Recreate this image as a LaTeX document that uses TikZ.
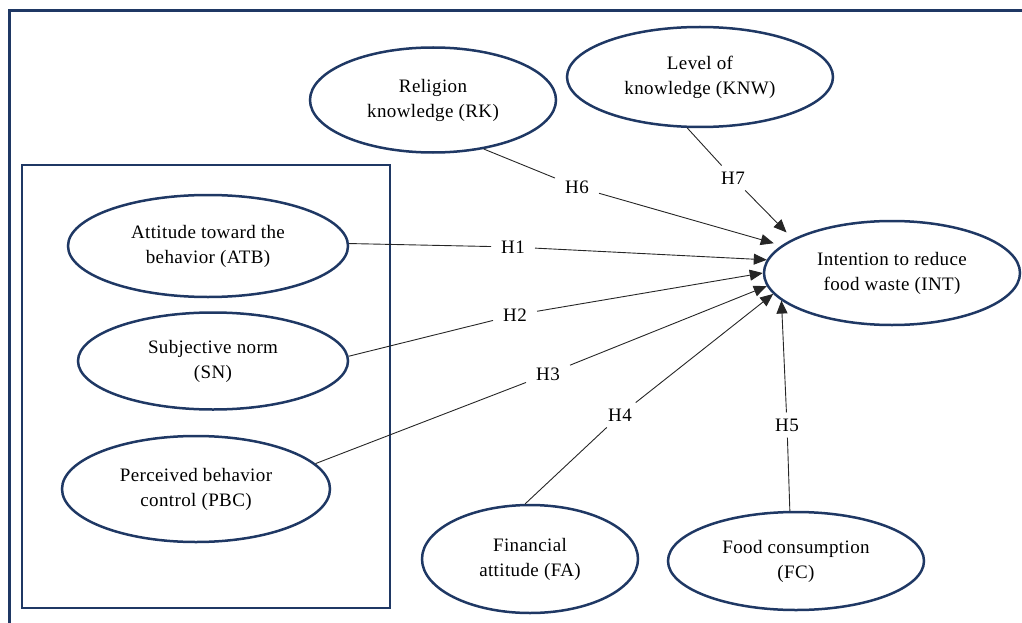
\documentclass[tikz,border=0pt]{standalone}
\usepackage{fontspec}
\setmainfont{Liberation Serif}[LetterSpace=2]
\usetikzlibrary{shapes.geometric,arrows.meta}
\definecolor{navy}{RGB}{31,56,100}
\begin{document}
\begin{tikzpicture}[x=1pt,y=-1pt,
  latent/.style={ellipse,draw=navy,line width=2.5pt,align=center,inner sep=0pt,
    font=\fontsize{19}{25}\selectfont},
  hyp/.style={inner xsep=10pt,inner ysep=6pt,font=\fontsize{19}{22}\selectfont},
  link/.style={draw=black!85,line width=0.9pt},
  arr/.style={link,-{Triangle[length=13pt,width=11pt]}},
  frame/.style={draw=navy,line width=2.5pt}]
\useasboundingbox (0,0) rectangle (1022,623);
\clip (0,0) rectangle (1022,623);
% outer frame and TPB group box
\draw[frame,line width=3pt] (9,11) rectangle (1060,660);
\draw[frame] (22,165) rectangle (390,608);
% constructs
\node[latent,minimum width=246pt,minimum height=105pt] (RK)  at (433,100) {Religion\\knowledge (RK)};
\node[latent,minimum width=266pt,minimum height=100pt] (KNW) at (700,77)  {Level of\\knowledge (KNW)};
\node[latent,minimum width=256pt,minimum height=104pt] (INT) at (892,273) {Intention to reduce\\food waste (INT)};
\node[latent,minimum width=280pt,minimum height=102pt] (ATB) at (208,246) {Attitude toward the\\behavior (ATB)};
\node[latent,minimum width=270pt,minimum height=97pt]  (SN)  at (213,361) {Subjective norm\\(SN)};
\node[latent,minimum width=268pt,minimum height=106pt] (PBC) at (196,489) {Perceived behavior\\control (PBC)};
\node[latent,minimum width=216pt,minimum height=108pt] (FA)  at (530,559) {Financial\\attitude (FA)};
\node[latent,minimum width=256pt,minimum height=98pt]  (FC)  at (796,561) {Food consumption\\(FC)};
% hypothesis labels
\node[hyp] (h1) at (513,247) {H1};
\node[hyp] (h2) at (515,315) {H2};
\node[hyp] (h3) at (548,374) {H3};
\node[hyp] (h4) at (620,415) {H4};
\node[hyp] (h5) at (787,425) {H5};
\node[hyp] (h6) at (577,187) {H6};
\node[hyp] (h7) at (733,178) {H7};
% paths
\draw[link] (ATB.1) -- (h1);   \draw[arr] (h1) -- (INT.174.6);
\draw[link] (SN.2) -- (h2);    \draw[arr] (h2) -- (INT.180.5);
\draw[link] (PBC.12) -- (h3);  \draw[arr] (h3) -- (INT.186);
\draw[link] (FA.95) -- (h4);   \draw[arr] (h4) -- (INT.190);
\draw[link] (FC.97) -- (h5);   \draw[arr] (h5) -- (INT.194);
\draw[link] (RK.316) -- (h6);  \draw[arr,shorten >=8pt] (h6) -- (INT.166.6);
\draw[link] (KNW.256) -- (h7); \draw[arr,shorten >=9pt] (h7) -- (INT.161);
\end{tikzpicture}
\end{document}
